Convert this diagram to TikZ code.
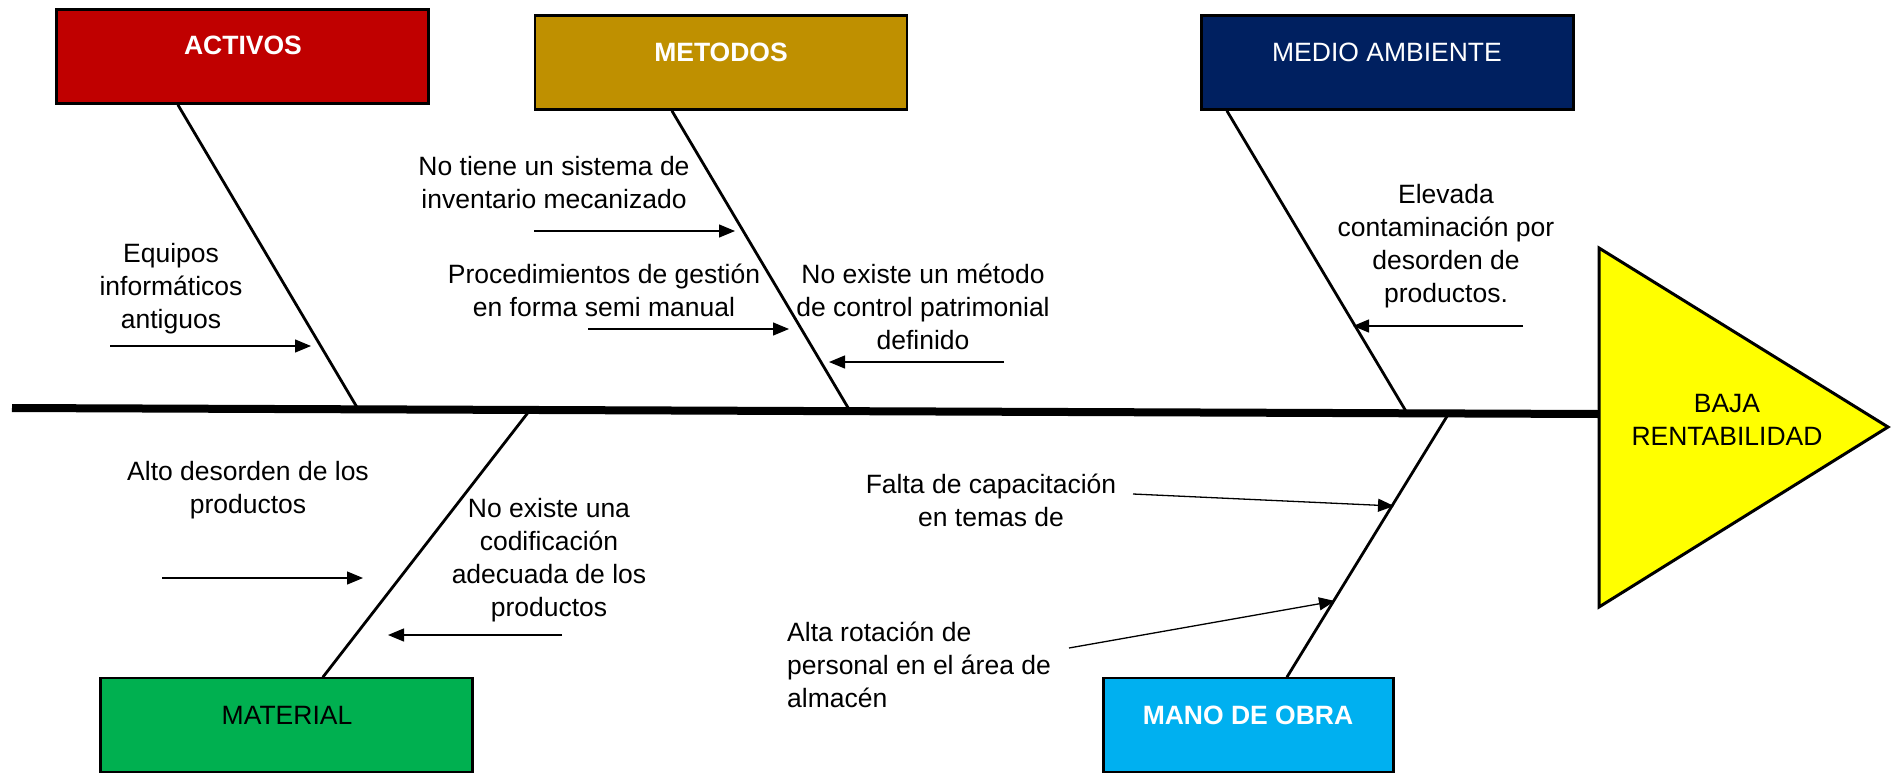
\documentclass[tikz,border=0pt]{standalone}
\usepackage{fontspec}
\setmainfont{Liberation Sans}
\usetikzlibrary{arrows.meta}
\definecolor{cred}{HTML}{C00000}
\definecolor{cgold}{HTML}{BF9000}
\definecolor{cnavy}{HTML}{002060}
\definecolor{cgreen}{HTML}{00B050}
\definecolor{ccyan}{HTML}{00B0F0}
\definecolor{cyel}{HTML}{FFFF00}
\tikzset{
  catbox/.style={draw=black, line width=2.5pt, rectangle, minimum height=94pt, inner sep=0pt},
  cattitle/.style={font=\fontsize{26.5}{33}\selectfont, inner sep=0pt, text=white},
  cause/.style={font=\fontsize{26.5}{33}\selectfont, align=center, inner sep=0pt},
  bone/.style={line width=2.8pt, line cap=round},
  spine/.style={line width=8pt},
  causearrow/.style={line width=1.3pt, -{Triangle[length=16pt,width=13pt]}}
}
\begin{document}
\begin{tikzpicture}[x=1pt,y=-1pt]
\useasboundingbox (0,0) rectangle (1892,774);
% boxes
\node[catbox, fill=cred, minimum width=372pt] (act) at (242.5,56.5) {};
\node[catbox, fill=cgold, minimum width=372pt] (met) at (721,62.5) {};
\node[catbox, fill=cnavy, minimum width=372pt] (med) at (1387.5,62.5) {};
\node[catbox, fill=cgreen, minimum width=372pt] (mat) at (286.5,725) {};
\node[catbox, fill=ccyan, minimum width=290pt] (mano) at (1248.5,725) {};
% titles
\node[cattitle, font=\fontsize{26.5}{33}\selectfont\bfseries] (tact) at (243,45) {ACTIVOS};
\node[cattitle, font=\fontsize{26.5}{33}\selectfont\bfseries] (tmet) at (721,52) {METODOS};
\node[cattitle] (tmed) at (1387,52) {MEDIO AMBIENTE};
\node[cattitle, text=black] (tmat) at (287,715) {MATERIAL};
\node[cattitle, font=\fontsize{26.5}{33}\selectfont\bfseries] (tmano) at (1248,715) {MANO DE OBRA};
% bone coordinates
\coordinate (actTop) at (178,105);
\coordinate (actEnd) at (358,409);
\coordinate (metTop) at (672,111);
\coordinate (metEnd) at (850,411);
\coordinate (medTop) at (1227,111);
\coordinate (medEnd) at (1407,413);
\coordinate (matTop) at (323,677);
\coordinate (matEnd) at (530,410);
\coordinate (manoTop) at (1287,677);
\coordinate (manoEnd) at (1449,413);
\draw[bone] (actTop) -- (actEnd);
\draw[bone] (metTop) -- (metEnd);
\draw[bone] (medTop) -- (medEnd);
\draw[bone] (matTop) -- (matEnd);
\draw[bone] (manoTop) -- (manoEnd);
% spine
\coordinate (spL) at (12,408);
\coordinate (spR) at (1599,414);
\draw[spine] (spL) -- (spR);
% head triangle
\draw[line width=3pt, fill=cyel, line join=miter] (1599,248) -- (1888,427) -- (1599,607) -- cycle;
\node[cause] (head) at (1727,420) {BAJA\\RENTABILIDAD};
% cause texts
\node[cause] (c1) at (171,289) {Equipos\\informáticos\\antiguos};
\node[cause] (c2) at (554,183) {No tiene un sistema de\\inventario mecanizado};
\node[cause] (c3) at (604,290) {Procedimientos de gestión\\en forma semi manual};
\node[cause] (c4) at (923,307) {No existe un método\\de control patrimonial\\definido};
\node[cause] (c5) at (1446,246) {Elevada\\contaminación por\\desorden de\\productos.};
\node[cause] (c6) at (248,490) {Alto desorden de los\\productos};
\node[cause] (c7) at (549,560) {No existe una\\codificación\\adecuada de los\\productos};
\node[cause] (c8) at (991,500) {Falta de capacitación\\en temas de};
\node[cause, align=left, anchor=west] (c9) at (787,665) {Alta rotación de\\personal en el área de\\almacén};
% arrows
\coordinate (a1s) at (110,346); \coordinate (a1e) at (311,346);
\coordinate (a2s) at (534,231); \coordinate (a2e) at (735,231);
\coordinate (a3s) at (588,329); \coordinate (a3e) at (789,329);
\coordinate (a4s) at (1004,362); \coordinate (a4e) at (829,362);
\coordinate (a5s) at (1523,326); \coordinate (a5e) at (1353,326);
\coordinate (a6s) at (162,578); \coordinate (a6e) at (363,578);
\coordinate (a7s) at (562,635); \coordinate (a7e) at (388,635);
\coordinate (a8s) at (1133,494); \coordinate (a8e) at (1394,506);
\coordinate (a9s) at (1069,648); \coordinate (a9e) at (1335,601);
\draw[causearrow] (a1s) -- (a1e);
\draw[causearrow] (a2s) -- (a2e);
\draw[causearrow] (a3s) -- (a3e);
\draw[causearrow] (a4s) -- (a4e);
\draw[causearrow] (a5s) -- (a5e);
\draw[causearrow] (a6s) -- (a6e);
\draw[causearrow] (a7s) -- (a7e);
\draw[causearrow] (a8s) -- (a8e);
\draw[causearrow] (a9s) -- (a9e);
\end{tikzpicture}
\end{document}
